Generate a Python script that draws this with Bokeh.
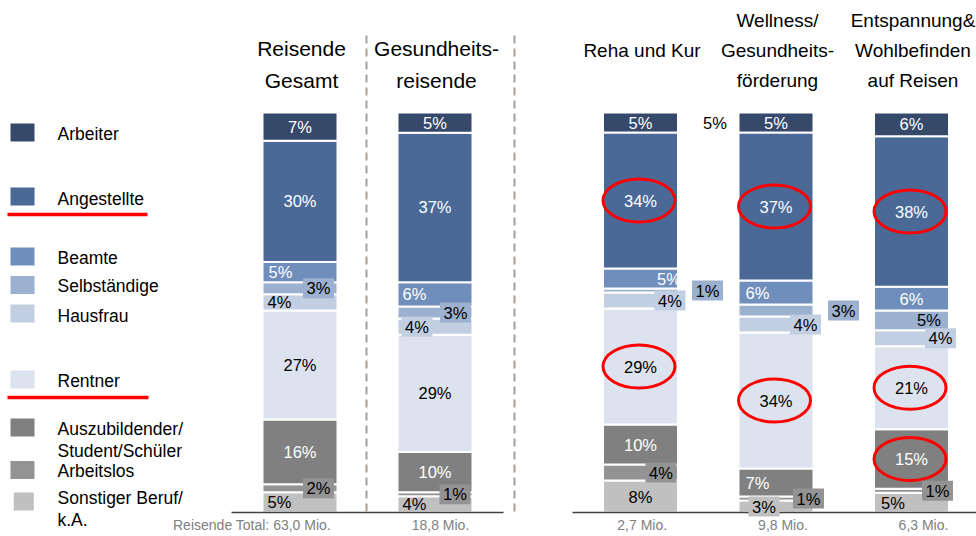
from bokeh.plotting import figure
from bokeh.models import Range1d
from bokeh.core.properties import value
from bokeh.embed import file_html
from bokeh.resources import INLINE

# ---------------- data ----------------
categories = ["Arbeiter", "Angestellte", "Beamte", "Selbständige", "Hausfrau", "Rentner",
              "Auszubildender/\nStudent/Schüler", "Arbeitslos", "Sonstiger Beruf/\nk.A."]
groups = ["Reisende\nGesamt", "Gesundheits-\nreisende", "Reha und Kur",
          "Wellness/\nGesundheits-\nförderung", "Entspannung&\nWohlbefinden\nauf Reisen"]
reisende_gesamt = [7, 30, 5, 3, 4, 27, 16, 2, 5]
gesundheitsreisende = [5, 37, 6, 3, 4, 29, 10, 1, 4]
reha_kur = [5, 34, 5, 1, 4, 29, 10, 4, 8]
wellness = [5, 37, 6, 3, 4, 34, 7, 1, 3]
entspannung = [6, 38, 6, 5, 4, 21, 15, 1, 5]
totals_mio = [63.0, 18.8, 2.7, 9.8, 6.3]
highlighted = [(2, 1), (2, 5), (3, 1), (3, 5), (4, 1), (4, 5), (4, 6)]  # (group, category)

series = [reisende_gesamt, gesundheitsreisende, reha_kur, wellness, entspannung]

colors = ["#37496b", "#4a6997", "#6f8ebb", "#9cb0cf", "#c2cee1", "#dce3ee",
          "#808080", "#939393", "#c0c0c0"]

# ---------------- layout ----------------
FONT = value("Liberation Sans")
W, H = 976, 536
BASE_PY = 512.0
PX = 4.0


def Y(py):
    return (BASE_PY - py) / PX


BAR_X = [299.5, 434.5, 640, 775.5, 911]
BAR_W = 75
TITLE_LEFT = [True, True, False, False, False]

# (mode, dx, text colour, box)
label_layout = [
    [("c", 0, "white", False), ("c", 0, "white", False), ("l", 6, "white", False), ("b", 18.5, "black", True),
     ("l", 5, "black", False), ("c", 0, "black", False), ("c", 0, "white", False), ("b", 18.5, "black", True),
     ("l", 5, "black", False)],
    [("c", 0, "white", False), ("c", 0, "white", False), ("l", 5, "white", False), ("b", 20.5, "black", True),
     ("b", -18, "black", True), ("c", 0, "black", False), ("c", 0, "white", False), ("b", 20, "black", True),
     ("l", 5, "black", False)],
    [("c", 0, "white", False), ("c", 0, "white", False), ("c", 28.5, "white", False), ("b", 67, "black", True),
     ("b", 29.5, "black", True), ("c", 0, "black", False), ("c", 0, "white", False), ("b", 20.5, "black", True),
     ("c", 0, "black", False)],
    [("c", 0, "white", False), ("c", 0, "white", False), ("l", 7, "white", False), ("b", 67.5, "black", True),
     ("b", 29.5, "black", True), ("c", 0, "black", False), ("l", 7, "white", False), ("b", 32.5, "black", True),
     ("b", -12, "black", True)],
    [("c", 0, "white", False), ("c", 0, "white", False), ("c", 0, "white", False), ("c", 17.5, "black", False),
     ("b", 29, "black", True), ("c", 0, "black", False), ("c", 0, "white", False), ("b", 26, "black", True),
     ("l", 7, "black", False)],
]
TOTAL_DX = [-48, 5.5, 1.7, 7, 12]

LEGEND_SQ_Y = [132, 196, 256, 284.5, 313, 379, 427, 469.5, 501]
LEGEND_TXT_Y = [133, 198, 257, 285, 315, 380, 428, 470, 497]
LEGEND_LINE_GAP = 22

p = figure(width=W, height=H, output_backend="svg", toolbar_location=None,
           x_range=Range1d(0, W), y_range=Range1d(Y(H), Y(0)),
           x_axis_location=None, y_axis_location=None, min_border=0)
p.outline_line_color = None
p.grid.visible = False
p.background_fill_color = "white"
p.border_fill_color = "white"

# ---------------- bars ----------------
seg = {"x": [], "bottom": [], "top": [], "color": []}
centers = []
for g, vals in enumerate(series):
    s = float(sum(vals))
    cum = 0.0
    cen = [0.0] * len(vals)
    for i in range(len(vals) - 1, -1, -1):
        h = vals[i] / s * 100.0
        seg["x"].append(BAR_X[g])
        seg["bottom"].append(cum)
        seg["top"].append(cum + h)
        seg["color"].append(colors[i])
        cen[i] = cum + h / 2
        cum += h
    centers.append(cen)

p.vbar(x=seg["x"], bottom=seg["bottom"], top=seg["top"], width=BAR_W,
       fill_color=seg["color"], line_color="white", line_width=2)

# baselines and dashed separators
p.segment(x0=[231, 572], y0=[0, 0], x1=[503, W], y1=[0, 0], line_color="#404040", line_width=1.5)
p.segment(x0=[366, 514], y0=[Y(35)] * 2, x1=[366, 514], y1=[0, 0],
          line_color="#a69e98", line_width=2, line_dash="8 5")

# ---------------- value labels ----------------
box = {"x": [], "y": [], "c": []}
lab = {"x": [], "y": [], "t": [], "c": [], "a": []}
for g, vals in enumerate(series):
    left = BAR_X[g] - BAR_W / 2
    for i, v in enumerate(vals):
        mode, dx, tc, has_box = label_layout[g][i]
        y = centers[g][i]
        if mode == "l":
            x, al = left + dx, "left"
        else:
            x, al = BAR_X[g] + dx, "center"
        if has_box:
            box["x"].append(x)
            box["y"].append(y)
            box["c"].append(colors[i])
        lab["x"].append(x)
        lab["y"].append(y)
        lab["t"].append(f"{v}%")
        lab["c"].append(tc)
        lab["a"].append(al)

# stray label next to "Reha und Kur"
lab["x"].append(714.5)
lab["y"].append(centers[2][0])
lab["t"].append(f"{series[2][0]}%")
lab["c"].append("black")
lab["a"].append("center")

p.rect(x=box["x"], y=box["y"], width=31, height=20 / PX, fill_color=box["c"], line_color=None)
p.text(x=lab["x"], y=lab["y"], text=lab["t"], text_color=lab["c"], text_align=lab["a"],
       text_baseline="middle", text_font=FONT, text_font_size="16.5px")

# highlight ellipses
p.ellipse(x=[BAR_X[g] - 1.5 for g, i in highlighted], y=[centers[g][i] for g, i in highlighted],
          width=72, height=43 / PX, fill_color=None, line_color="#ff0000", line_width=3)

# ---------------- titles ----------------
for g, title in enumerate(groups):
    lines = title.split("\n")
    if TITLE_LEFT[g]:
        ys, fs = [48, 80], "21px"
    else:
        ys = {1: [50], 3: [20, 50, 80]}[len(lines)]
        fs = "19px"
    p.text(x=[BAR_X[g] + 1.5] * len(lines), y=[Y(v) for v in ys], text=lines,
           text_align="center", text_baseline="middle", text_font=FONT,
           text_font_size=fs, text_color="black")

# totals
tot_txt = []
for g, t in enumerate(totals_mio):
    s = f"{t:.1f} Mio.".replace(".", ",", 1)
    tot_txt.append(("Reisende Total: " + s) if g == 0 else s)
p.text(x=[BAR_X[g] + TOTAL_DX[g] for g in range(5)], y=[Y(524)] * 5, text=tot_txt,
       text_align="center", text_baseline="middle", text_font=FONT, text_font_size="14px",
       text_color="#808080")

# ---------------- legend ----------------
p.rect(x=[22] * 8 + [23.3], y=[Y(v) for v in LEGEND_SQ_Y], width=[24] * 8 + [20], height=18 / PX,
       fill_color=colors, line_color=None)
lx, ly, lt = [], [], []
for i, name in enumerate(categories):
    for k, line in enumerate(name.split("\n")):
        lx.append(57)
        ly.append(Y(LEGEND_TXT_Y[i] + k * LEGEND_LINE_GAP))
        lt.append(line)
p.text(x=lx, y=ly, text=lt, text_align="left", text_baseline="middle", text_font=FONT,
       text_font_size="17.5px", text_color="black")
p.segment(x0=[7, 7], y0=[Y(214), Y(397)], x1=[147, 148], y1=[Y(214), Y(397)],
          line_color="#ff0000", line_width=3.3)

open("out.html", "w").write(file_html(p, INLINE))
